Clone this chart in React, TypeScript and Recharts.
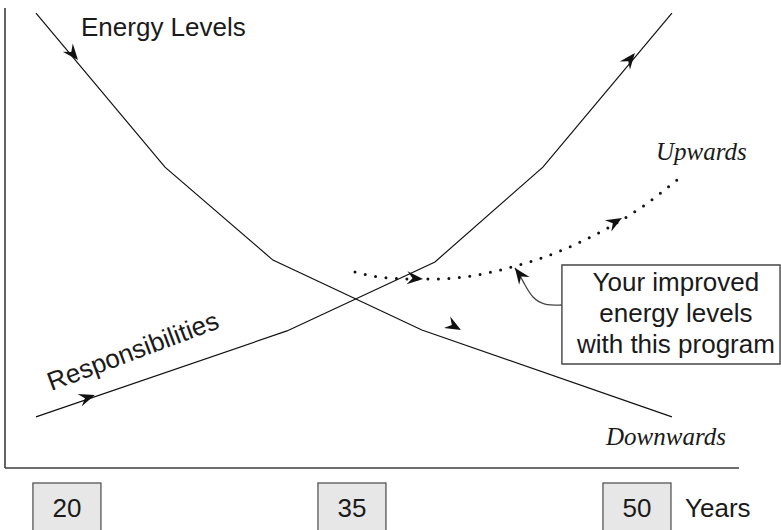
import React from "react";
import {
  LineChart,
  Line,
  XAxis,
  YAxis,
  ReferenceArea,
  ReferenceDot,
} from "recharts";

// x = age in years, y = level (0 at the axis, 100 at the top)
const energyAge = [18.37, 25.16, 30.84, 38.68, 51.84];
const energyLevel = [98.9, 65.4, 45.2, 30.0, 11.1];

const respAge = [18.37, 31.58, 39.37, 45.05, 51.84];
const respLevel = [11.1, 29.8, 44.8, 65.4, 98.9];

const improvedAge = [35.16, 36.47, 38.05, 39.63, 41.21, 43.42, 45.16, 47.11, 48.74, 50.42, 52.1];
const improvedLevel = [42.6, 41.5, 41.1, 41.1, 41.7, 43.7, 45.9, 49.3, 52.8, 57.2, 62.6];

const calloutAge = [46.05, 45.16, 44.53, 44.11, 43.79, 43.58];
const calloutLevel = [35.43, 35.65, 37.17, 39.78, 42.17, 43.48];

const yearTicks = [20, 35, 50];
const calloutLines = ["Your improved", "energy levels", "with this program"];

// [tailAge, tailLevel, tipAge, tipLevel]
const arrowHeads = [
  [20.24, 90.4, 20.58, 88.7],
  [40.0, 31.7, 40.74, 30.0],
  [20.97, 15.17, 21.47, 15.87],
  [49.56, 88.5, 49.89, 90.2],
  [38.05, 41.3, 38.74, 41.1],
  [48.75, 53.26, 49.21, 54.35],
];

const X_MIN = 16.74;
const X_MAX = 55.37;

const SANS = "'Liberation Sans', Arial, Helvetica, sans-serif";
const SERIF = "'Liberation Serif', 'Times New Roman', serif";
const INK = "#1a1a1a";
const AXIS = "#3c3c3c";

const toPoints = (xs: number[], ys: number[]) =>
  xs.map((x, i) => ({ x, y: ys[i] }));

const AgeTick = (props: any) => {
  const { x, y, payload } = props;
  return (
    <g>
      <rect
        x={x - 34}
        y={y + 15}
        width={68}
        height={52}
        fill="#e7e7e7"
        stroke="#555"
        strokeWidth={1.3}
      />
      <text
        x={x}
        y={y + 49}
        textAnchor="middle"
        fontFamily={SANS}
        fontSize={26}
        fill={INK}
      >
        {payload.value}
      </text>
    </g>
  );
};

const note =
  (text: string, opts: { serif?: boolean; rotate?: number } = {}) =>
  (p: any) =>
    (
      <text
        x={p.cx}
        y={p.cy}
        fontFamily={opts.serif ? SERIF : SANS}
        fontStyle={opts.serif ? "italic" : "normal"}
        fontSize={opts.serif ? 25 : 26}
        fill={INK}
        transform={opts.rotate ? `rotate(${opts.rotate} ${p.cx} ${p.cy})` : undefined}
      >
        {text}
      </text>
    );

const calloutText = (p: any) => (
  <text
    x={p.cx}
    y={p.cy}
    textAnchor="middle"
    fontFamily={SANS}
    fontSize={26}
    fill={INK}
  >
    {calloutLines.map((line, i) => (
      <tspan key={line} x={p.cx} dy={i === 0 ? 0 : 31}>
        {line}
      </tspan>
    ))}
  </text>
);

export default function App() {
  return (
    <div style={{ position: "absolute", left: 0, top: 0, width: 781, height: 530, background: "#fff" }}>
      <svg width={0} height={0} style={{ position: "absolute" }}>
        <defs>
          <marker
            id="head"
            viewBox="-18 -8 20 16"
            refX={0}
            refY={0}
            markerWidth={20}
            markerHeight={16}
            markerUnits="userSpaceOnUse"
            orient="auto"
          >
            <path d="M0,0 L-16,-6.5 L-10.5,0 L-16,6.5 Z" fill="#111" />
          </marker>
        </defs>
      </svg>
      <LineChart
        width={781}
        height={530}
        margin={{ top: 8, right: 42, bottom: 0, left: 3 }}
      >
        <XAxis
          type="number"
          dataKey="x"
          domain={[X_MIN, X_MAX]}
          allowDataOverflow
          ticks={yearTicks}
          interval={0}
          tick={<AgeTick />}
          tickLine={false}
          tickSize={0}
          tickMargin={0}
          height={62}
          axisLine={{ stroke: AXIS, strokeWidth: 1.6 }}
        />
        <YAxis
          type="number"
          domain={[0, 100]}
          allowDataOverflow
          width={2}
          tick={false}
          tickLine={false}
          axisLine={{ stroke: AXIS, strokeWidth: 1.6 }}
        />

        <Line
          data={toPoints(energyAge, energyLevel)}
          dataKey="y"
          type="linear"
          stroke="#111"
          strokeWidth={1.2}
          dot={false}
          activeDot={false}
          isAnimationActive={false}
        />
        <Line
          data={toPoints(respAge, respLevel)}
          dataKey="y"
          type="linear"
          stroke="#111"
          strokeWidth={1.2}
          dot={false}
          activeDot={false}
          isAnimationActive={false}
        />
        <Line
          data={toPoints(improvedAge, improvedLevel)}
          dataKey="y"
          type="monotone"
          stroke="#111"
          strokeWidth={3}
          strokeDasharray="0 10.5"
          strokeLinecap="round"
          dot={false}
          activeDot={false}
          isAnimationActive={false}
        />
        <Line
          data={toPoints(calloutAge, calloutLevel)}
          dataKey="y"
          type="natural"
          stroke="#444"
          strokeWidth={1.3}
          markerEnd="url(#head)"
          dot={false}
          activeDot={false}
          isAnimationActive={false}
        />
        {arrowHeads.map(([ta, tl, ha, hl], i) => (
          <Line
            key={`arrow-${i}`}
            data={[
              { x: ta, y: tl },
              { x: ha, y: hl },
            ]}
            dataKey="y"
            type="linear"
            stroke="none"
            markerEnd="url(#head)"
            dot={false}
            activeDot={false}
            isAnimationActive={false}
          />
        ))}

        <ReferenceArea
          x1={46.05}
          x2={57.53}
          y1={22.6}
          y2={44.13}
          ifOverflow="visible"
          fill="#fff"
          fillOpacity={1}
          stroke="#444"
          strokeWidth={1.4}
        />
        <ReferenceDot x={52.05} y={38.48} r={0} ifOverflow="visible" shape={calloutText} />

        <ReferenceDot x={20.74} y={94.0} r={0} ifOverflow="visible" shape={note("Energy Levels")} />
        <ReferenceDot x={19.18} y={16.74} r={0} ifOverflow="visible" shape={note("Responsibilities", { rotate: -20.5 })} />
        <ReferenceDot x={51.0} y={66.96} r={0} ifOverflow="visible" shape={note("Upwards", { serif: true })} />
        <ReferenceDot x={48.37} y={5.0} r={0} ifOverflow="visible" shape={note("Downwards", { serif: true })} />
        <ReferenceDot x={52.53} y={-10.65} r={0} ifOverflow="visible" shape={note("Years")} />
      </LineChart>
    </div>
  );
}
